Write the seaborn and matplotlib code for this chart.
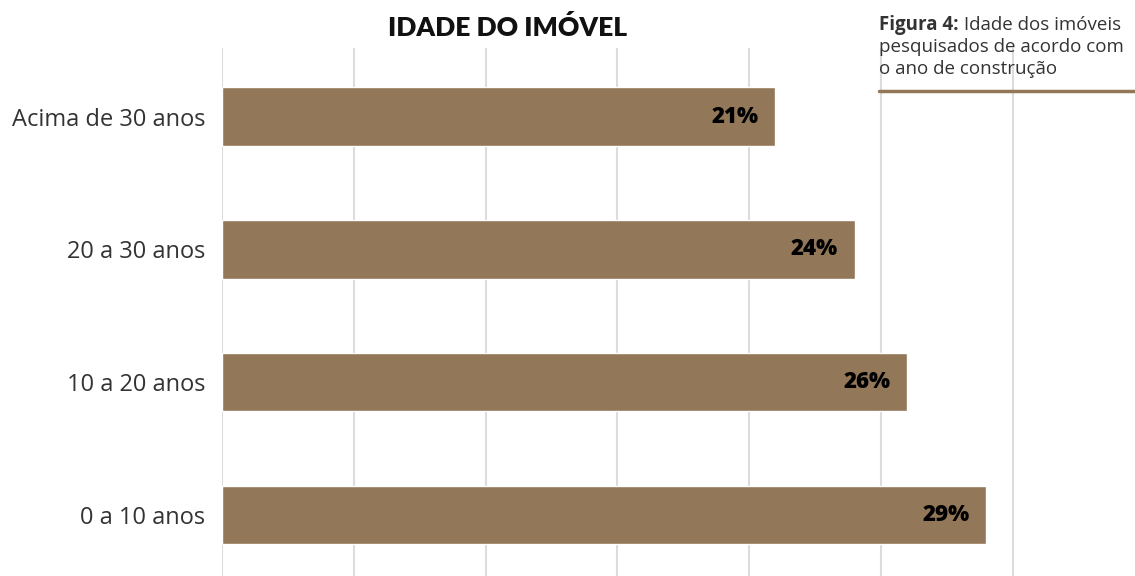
import matplotlib
matplotlib.use("Agg")
import matplotlib.pyplot as plt
import seaborn as sns
import pandas as pd

# data
categories = ["Acima de 30 anos", "20 a 30 anos", "10 a 20 anos", "0 a 10 anos"]
percentages = [21, 24, 26, 29]
value_labels = ["21%", "24%", "26%", "29%"]

bar_color = "#927859"
text_color = "#333333"

sns.set_theme(style="white")
plt.rcParams["font.family"] = ["Open Sans", "DejaVu Sans"]

df = pd.DataFrame({"idade": categories, "pct": percentages})

fig = plt.figure(figsize=(11.35, 5.76), dpi=100)
ax = fig.add_axes([222 / 1135, 0.0, 1 - 222 / 1135, (576 - 48) / 576])

sns.barplot(data=df, x="pct", y="idade", orient="h", color=bar_color,
            saturation=1, width=0.44, ax=ax, zorder=3)

ax.set_xlim(0, 34.64)
ax.set_ylim(3.46, -0.516)
ax.set_xticks([0, 5, 10, 15, 20, 25, 30])
ax.xaxis.grid(True, color="#dcdcdc", linewidth=1.5, zorder=0)
ax.set_axisbelow(True)
ax.tick_params(axis="x", bottom=False, labelbottom=False)
ax.tick_params(axis="y", left=False, labelsize=17, labelcolor=text_color, pad=6)
ax.set_xlabel("")
ax.set_ylabel("")
for s in ax.spines.values():
    s.set_visible(False)

for i, (v, lab) in enumerate(zip(percentages, value_labels)):
    ax.annotate(lab, xy=(v, i), xytext=(-12, 0), textcoords="offset points",
                ha="right", va="center", fontsize=16, fontweight="heavy",
                color="black", zorder=4)

fig.text(508 / 1135, 1 - 28 / 576, "IDADE DO IMÓVEL", ha="center", va="center",
         fontsize=19, fontweight="heavy", color="#111111",
         family=["Lato", "DejaVu Sans"])

# caption at top right (cut off by the figure edge, as in the source)
cap_x = 879 / 1135
cap_size = 13.5
t1 = fig.text(cap_x, 1 - 25 / 576, "Figura 4:", ha="left", va="center",
              fontsize=cap_size, fontweight="bold", color=text_color)
ax.annotate(" Idade dos imóveis", xy=(1, 0.5), xycoords=t1, ha="left", va="center",
            fontsize=cap_size, color=text_color, annotation_clip=False)
fig.text(cap_x, 1 - 47 / 576, "pesquisados de acordo com", ha="left", va="center",
         fontsize=cap_size, color=text_color)
fig.text(cap_x, 1 - 69 / 576, "o ano de construção", ha="left", va="center",
         fontsize=cap_size, color=text_color)
fig.add_artist(plt.Line2D([cap_x, 1.0], [1 - 91 / 576, 1 - 91 / 576],
                          transform=fig.transFigure, color=bar_color, linewidth=2.5))

fig.savefig("out.png", dpi=100)
